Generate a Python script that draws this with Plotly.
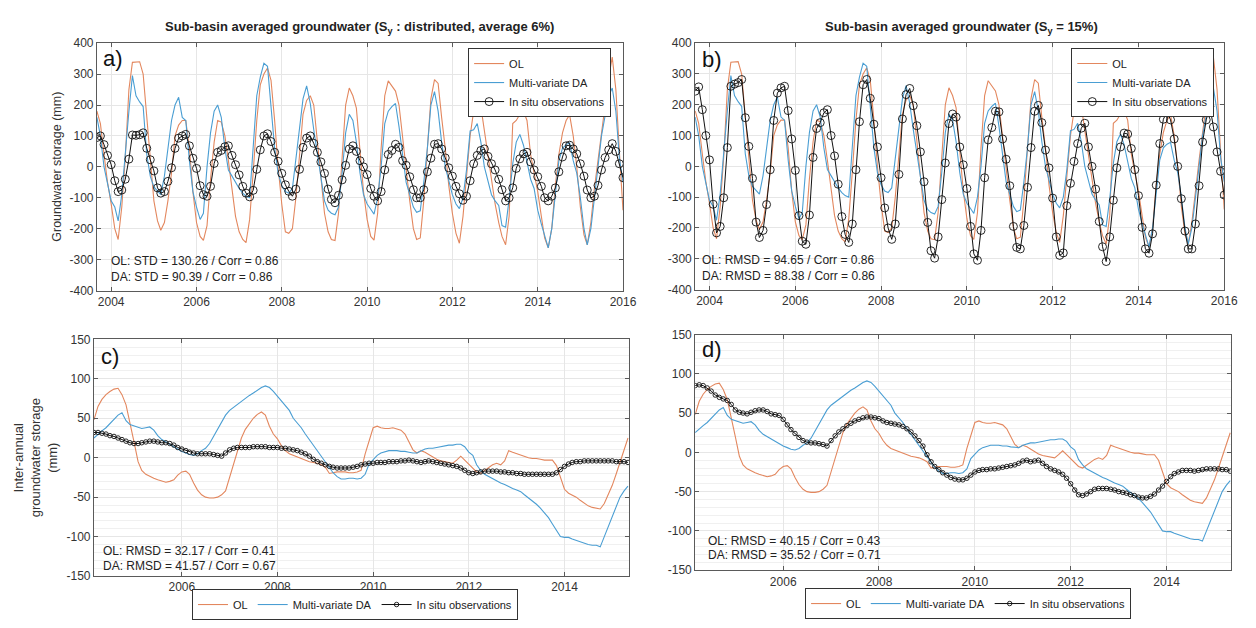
import pandas as pd
import plotly.graph_objects as go

# ---------------- data ----------------
# monthly, Sep 2003 .. Jan 2016 (top panels)
months_top = pd.date_range("2003-09-01", "2016-01-01", freq="MS").strftime("%Y-%m-%d").tolist()

ol_top = [180, 140, 40, -50, -120, -200, -235, -130, 30, 250, 338, 338,
          340, 300, 160, 10, -110, -175, -205, -180, -110, -20, 100, 135,
          150, 150, 60, -80, -180, -225, -238, -190, -40, 80, 150, 145,
          100, 20, -80, -160, -210, -235, -245, -170, -20, 150, 265, 300,
          320, 280, 150, 0, -120, -210, -215, -200, -100, 50, 170, 215,
          230, 200, 80, -50, -150, -210, -235, -238, -150, 30, 200, 255,
          230, 190, 40, -80, -170, -225, -237, -150, 60, 230, 278, 262,
          245, 200, 90, -10, -110, -200, -235, -230, -110, 60, 220, 282,
          270, 160, 60, -60, -150, -215, -247, -160, -20, 100, 180, 203,
          195, 120, 40, -40, -120, -180, -225, -252, -160, 140, 150, 170,
          180, 150, 40, -20, -80, -160, -230, -262, -200, -60, 40, 110,
          150, 168, 100, 0, -130, -220, -252, -180, -70, 20, 110, 200,
          290, 355, 250, 50, -140]

da_top = [160, 100, 0, -60, -110, -130, -175, -90, 50, 180, 295, 230,
          210, 195, 40, -30, -65, -80, -90, -30, 60, 150, 200, 225,
          160, 150, 20, -80, -130, -170, -150, 0, 110, 180, 200, 160,
          60, -10, -30, -50, -70, -85, -95, -100, 80, 230, 290, 335,
          325, 190, 60, -20, -60, -80, -85, -70, 20, 130, 220, 262,
          205, 120, 40, -40, -110, -140, -150, -155, -130, -20, 110, 170,
          150, 80, -20, -90, -120, -137, -153, -100, 0, 140, 180, 195,
          205, 130, 30, -50, -90, -130, -147, -142, -50, 60, 200, 243,
          180, 80, 0, -40, -90, -120, -135, -100, -10, 116, 120, 140,
          80, 0, -50, -90, -110, -125, -190, -195, -105, 10, 80, 105,
          70, 20, -40, -70, -140, -185, -220, -262, -200, -80, 20, 60,
          72, 78, 20, -20, -100, -200, -252, -200, -110, 0, 100, 170,
          230, 255, 180, 30, -50]

obs_a = [95, 100, 72, 37, 7, -45, -80, -75, -40, 25, 103, 102,
         104, 110, 60, 23, -13, -68, -85, -80, -47, -3, 60, 93,
         100, 105, 68, 28, -5, -61, -90, -95, -63, 11, 47, 53,
         65, 68, 37, 7, -26, -63, -85, -97, -76, -8, 55, 100,
         107, 82, 47, 18, -21, -58, -79, -95, -72, -8, 63, 93,
         100, 76, 47, 16, -21, -72, -105, -116, -92, -42, 5, 58,
         68, 50, 20, 0, -25, -70, -95, -110, -80, -10, 40, 53,
         73, 63, 20, 5, -32, -74, -100, -100, -74, -16, 28, 73,
         75, 58, 29, -3, -30, -63, -87, -108, -95, -45, 10, 37,
         53, 58, 34, 10, -10, -40, -74, -110, -100, -68, -5, 26,
         42, 47, 16, -10, -32, -63, -100, -110, -95, -68, -16, 32,
         68, 70, 58, 42, 10, -30, -75, -100, -95, -60, -10, 30,
         55, 75, 50, 10, -35]

obs_b = [244, 258, 184, 100, 21, -123, -216, -195, -102, 61, 260, 267,
         272, 282, 158, 65, -39, -181, -231, -208, -124, -11, 149, 238,
         255, 260, 181, 89, -13, -160, -243, -253, -158, 29, 123, 142,
         174, 184, 100, 34, -58, -163, -221, -247, -187, -11, 145, 265,
         282, 221, 137, 63, -37, -135, -200, -237, -187, -26, 154, 233,
         253, 197, 132, 47, -50, -182, -274, -298, -229, -108, 11, 139,
         170, 160, 63, 5, -72, -195, -284, -305, -208, -37, 86, 126,
         179, 177, 89, 23, -63, -195, -263, -268, -192, -68, 61, 179,
         198, 142, 53, -5, -103, -229, -289, -281, -128, -55, 16, 74,
         124, 140, 63, 0, -74, -179, -261, -309, -229, -110, -5, 63,
         108, 105, 58, -11, -95, -198, -268, -282, -219, -61, 74, 153,
         177, 151, 89, 0, -105, -210, -268, -268, -187, -63, 79, 151,
         195, 128, 47, -16, -93]

# monthly, Mar 2004 .. May 2015 (inter-annual panels)
months_bot = pd.date_range("2004-03-01", "2015-05-01", freq="MS").strftime("%Y-%m-%d").tolist()

ol_ia = [48, 65, 74, 80, 84, 87, 88, 80, 67, 45,
         20, -5, -16, -21, -24, -26, -28, -30, -31, -30,
         -28, -22, -18, -17, -21, -32, -41, -47, -50, -51,
         -51, -50, -47, -42, -25, -8, 10, 25, 36, 44,
         50, 55, 58, 54, 40, 30, 24, 15, 9, 5,
         3, 1, -1, -3, -5, -6, -7, -9, -12, -20,
         -19, -18, -18, -18, -19, -19, -18, -16, 5, 22,
         38, 40, 38, 37, 37, 38, 37, 35, 30, 20,
         10, 6, 9, 7, 4, 1, -2, -4, -5, -6,
         -7, -3, 2, -3, -8, -13, -18, -20, -16, -12,
         -9, -7, -9, -4, 9, 7, 5, 3, 1, 0,
         -1, -1, -2, -3, -3, -3, -10, -25, -40, -45,
         -47, -50, -54, -58, -61, -63, -64, -65, -58, -47,
         -35, -20, -5, 12, 25]

da_ia = [25, 30, 34, 38, 43, 49, 54, 57, 47, 42,
         40, 38, 37, 38, 39, 35, 28, 23, 20, 17,
         13, 11, 8, 6, 4, 3, 5, 9, 12, 18,
         27, 36, 44, 54, 60, 64, 68, 71, 76, 79,
         82, 86, 89, 91, 89, 84, 78, 72, 66, 60,
         50, 44, 38, 30, 23, 15, 8, 2, -6, -13,
         -19, -24, -27, -27, -26, -26, -27, -26, -21, -8,
         -2, 3, 6, 8, 9, 9, 9, 8, 8, 7,
         6, 6, 9, 11, 12, 12, 13, 14, 15, 16,
         16, 17, 17, 14, 7, 3, -9, -16, -21, -24,
         -27, -29, -32, -34, -37, -39, -41, -43, -47, -51,
         -55, -59, -64, -70, -76, -84, -92, -100, -101, -101,
         -103, -105, -107, -108, -110, -111, -111, -113, -100, -86,
         -73, -61, -50, -42, -36]

obs_c = [32, 32, 31, 30, 28, 27, 25, 23, 21, 19,
         18, 18, 19, 20, 21, 21, 20, 19, 19, 18,
         16, 13, 11, 9, 7, 6, 5, 5, 5, 5,
         4, 3, 2, 6, 10, 12, 13, 13, 13, 13,
         14, 14, 14, 14, 13, 13, 13, 12, 12, 11,
         10, 9, 7, 5, 2, -2, -5, -7, -9, -11,
         -12, -13, -13, -13, -13, -12, -11, -9, -8, -7,
         -7, -6, -6, -6, -5, -5, -5, -4, -4, -3,
         -4, -5, -6, -5, -4, -5, -6, -7, -8, -9,
         -10, -11, -13, -16, -19, -20, -19, -18, -17, -17,
         -17, -17, -18, -18, -19, -19, -20, -20, -21, -21,
         -21, -21, -21, -21, -21, -21, -19, -15, -11, -8,
         -6, -5, -5, -4, -4, -4, -4, -4, -4, -4,
         -4, -5, -5, -5, -6]

obs_d = [85, 86, 85, 82, 78, 73, 70, 68, 66, 61,
         54, 51, 50, 49, 51, 53, 54, 54, 52, 49,
         48, 47, 42, 35, 29, 24, 19, 15, 13, 12,
         12, 11, 10, 8, 15, 21, 26, 30, 34, 37,
         40, 42, 44, 45, 45, 44, 43, 40, 38, 37,
         36, 35, 33, 30, 26, 21, 15, 8, -3, -12,
         -18, -22, -26, -29, -32, -34, -35, -35, -33, -29,
         -25, -23, -22, -22, -21, -21, -20, -19, -18, -17,
         -16, -14, -11, -10, -12, -11, -10, -14, -18, -21,
         -23, -25, -28, -33, -40, -48, -54, -55, -53, -50,
         -47, -46, -46, -46, -47, -48, -50, -51, -52, -54,
         -55, -57, -58, -58, -56, -53, -48, -43, -37, -31,
         -27, -25, -23, -23, -23, -24, -23, -22, -21, -21,
         -21, -21, -22, -22, -24]

top_ticks = ["2004", "2006", "2008", "2010", "2012", "2014", "2016"]
bot_ticks = ["2006", "2008", "2010", "2012", "2014"]
top_yticks = [-400, -300, -200, -100, 0, 100, 200, 300, 400]
bot_yticks = [-150, -100, -50, 0, 50, 100, 150]

# ---------------- styling ----------------
W, H = 1256, 628
OL_C = "#E3875E"
DA_C = "#4A9ED3"
OBS_C = "#111111"
FONT = "Liberation Sans, Arial, sans-serif"
TXT = "#333333"


def px_x(p):
    return p / W


def px_y(p):
    return 1 - p / H


fig = go.Figure()

panels = [
    # (xaxis id, yaxis id, legend id, x values, ol, da, obs, marker size)
    ("x", "y", "legend", months_top, ol_top, da_top, obs_a, 8),
    ("x2", "y2", "legend2", months_top, ol_top, da_top, obs_b, 8),
    ("x3", "y3", "legend3", months_bot, ol_ia, da_ia, obs_c, 4.5),
    ("x4", "y4", "legend4", months_bot, ol_ia, da_ia, obs_d, 4.5),
]

for xa, ya, lg, xs, ol, da, ob, ms in panels:
    fig.add_trace(go.Scatter(x=xs, y=ol, mode="lines", name="OL",
                             line=dict(color=OL_C, width=1.1),
                             xaxis=xa, yaxis=ya, legend=lg))
    fig.add_trace(go.Scatter(x=xs, y=da, mode="lines", name="Multi-variate DA",
                             line=dict(color=DA_C, width=1.1),
                             xaxis=xa, yaxis=ya, legend=lg))
    fig.add_trace(go.Scatter(x=xs, y=ob, mode="lines+markers", name="In situ observations",
                             line=dict(color=OBS_C, width=1),
                             marker=dict(symbol="circle-open", size=ms,
                                         color=OBS_C, line=dict(width=0.9)),
                             xaxis=xa, yaxis=ya, legend=lg))

axis_common = dict(
    showline=True, linecolor="#5a5a5a", linewidth=1, mirror="ticks",
    ticks="inside", ticklen=4, tickcolor="#5a5a5a",
    showgrid=True, gridcolor="#e6e6e6", gridwidth=1, zeroline=False,
    tickfont=dict(family=FONT, size=12, color=TXT),
)

top_x = dict(axis_common, type="date", range=["2003-09-01", "2016-01-01"],
             tickvals=[t + "-01-01" for t in top_ticks], ticktext=top_ticks)
bot_x = dict(axis_common, type="date", range=["2004-03-01", "2015-05-08"],
             tickvals=[t + "-01-01" for t in bot_ticks], ticktext=bot_ticks)
top_y = dict(axis_common, range=[-400, 400], tickvals=top_yticks,
             ticktext=[str(v) for v in top_yticks])
bot_y = dict(axis_common, range=[-150, 150], tickvals=bot_yticks,
             ticktext=[str(v) for v in bot_yticks],
             minor=dict(dtick=10, showgrid=True, gridcolor="#f0f0f0", ticks=""))

fig.update_layout(
    width=W, height=H,
    margin=dict(l=0, r=0, t=0, b=0, pad=0),
    paper_bgcolor="white", plot_bgcolor="white",
    font=dict(family=FONT, color=TXT),
    xaxis=dict(top_x, domain=[px_x(98), px_x(630)], anchor="y"),
    yaxis=dict(top_y, domain=[px_y(290), px_y(37)], anchor="x"),
    xaxis2=dict(top_x, domain=[px_x(703), px_x(1238)], anchor="y2"),
    yaxis2=dict(top_y, domain=[px_y(289), px_y(37)], anchor="x2"),
    xaxis3=dict(bot_x, domain=[px_x(95), px_x(636)], anchor="y3"),
    yaxis3=dict(bot_y, domain=[px_y(582), px_y(340)], anchor="x3"),
    xaxis4=dict(bot_x, domain=[px_x(703), px_x(1245)], anchor="y4"),
    yaxis4=dict(bot_y, domain=[px_y(576), px_y(335)], anchor="x4"),
)

leg_common = dict(bgcolor="white", bordercolor="#333333", borderwidth=1,
                  font=dict(family=FONT, size=11, color="#222"),
                  tracegroupgap=0, itemwidth=30)
fig.update_layout(
    legend=dict(leg_common, x=px_x(618), xanchor="right", y=px_y(42), yanchor="top"),
    legend2=dict(leg_common, x=px_x(1228), xanchor="right", y=px_y(42), yanchor="top"),
    legend3=dict(leg_common, orientation="h", x=px_x(359), xanchor="center",
                 y=px_y(627), yanchor="bottom"),
    legend4=dict(leg_common, orientation="h", x=px_x(979), xanchor="center",
                 y=px_y(626), yanchor="bottom"),
)

ann = []
# titles
ann.append(dict(text="<b>Sub-basin averaged groundwater (S<sub>y</sub> : distributed, average 6%)</b>",
                x=px_x(364), y=px_y(21), xref="paper", yref="paper",
                xanchor="center", yanchor="middle",
                showarrow=False, font=dict(family=FONT, size=13, color="#222")))
ann.append(dict(text="<b>Sub-basin averaged groundwater (S<sub>y</sub> = 15%)</b>",
                x=px_x(972), y=px_y(21), xref="paper", yref="paper",
                xanchor="center", yanchor="middle",
                showarrow=False, font=dict(family=FONT, size=13, color="#222")))
# y titles
ann.append(dict(text="Groundwater storage (mm)", x=px_x(58), y=px_y(163),
                xref="paper", yref="paper", textangle=-90, showarrow=False,
                xanchor="center", yanchor="middle",
                font=dict(family=FONT, size=12.5, color=TXT)))
ann.append(dict(text="Inter-annual<br>groundwater storage<br>(mm)", x=px_x(36), y=px_y(461),
                xref="paper", yref="paper", textangle=-90, showarrow=False,
                xanchor="center", yanchor="middle",
                font=dict(family=FONT, size=13, color=TXT)))
# panel letters
for lab, xx, yy in [("a)", 102, 53), ("b)", 708, 54), ("c)", 100, 357), ("d)", 708, 350)]:
    ann.append(dict(text=lab, x=px_x(xx), y=px_y(yy), xref="paper", yref="paper",
                    xanchor="left", yanchor="middle", showarrow=False,
                    font=dict(family=FONT, size=22, color="#111")))
# statistics
stats = [
    ("OL: STD = 130.26 / Corr = 0.86", 110, 260),
    ("DA: STD = 90.39 / Corr = 0.86", 110, 276),
    ("OL: RMSD = 94.65 / Corr = 0.86", 708, 259),
    ("DA: RMSD = 88.38 / Corr = 0.86", 708, 275),
    ("OL: RMSD = 32.17 / Corr = 0.41", 102, 556),
    ("DA: RMSD = 41.57 / Corr = 0.67", 102, 572),
    ("OL: RMSD = 40.15 / Corr = 0.43", 714, 546),
    ("DA: RMSD = 35.52 / Corr = 0.71", 714, 561),
]
for t, xx, yy in stats:
    ann.append(dict(text=t, x=px_x(xx), y=px_y(yy), xref="paper", yref="paper",
                    xanchor="left", yanchor="middle", showarrow=False,
                    font=dict(family=FONT, size=12, color="#222")))

fig.update_layout(annotations=ann)

fig.write_html(
    "out.html",
    config={"displayModeBar": False},
    post_script="document.body.style.margin='0';document.body.style.padding='0';"
                "document.documentElement.style.overflow='hidden';",
)
